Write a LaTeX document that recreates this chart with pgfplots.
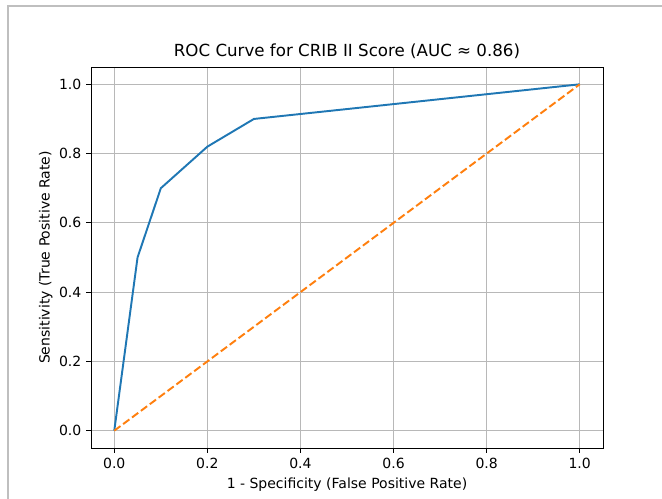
\documentclass[border=0pt]{standalone}
\usepackage{pgfplots}
\pgfplotsset{compat=1.18}
\usepackage{fontspec}
\setmainfont{DejaVu Sans}
\definecolor{mplblue}{HTML}{1F77B4}
\definecolor{mplorange}{HTML}{FF7F0E}
\begin{document}
\begin{tikzpicture}[x=0.75pt,y=0.75pt]
\path[use as bounding box] (0,0) rectangle (662,499);
% screenshot frame
\draw[black!25, line width=1.4pt] (8,0) -- (8,493) -- (662,493);
\coordinate (origin) at (91,51);
\begin{axis}[
  at={(origin)}, anchor=south west,
  scale only axis, width=384pt, height=285.75pt,
  xmin=-0.05, xmax=1.05, ymin=-0.05, ymax=1.05,
  xtick={0,0.2,0.4,0.6,0.8,1.0},
  ytick={0,0.2,0.4,0.6,0.8,1.0},
  xtick pos=bottom, ytick pos=left,
  tick align=outside, major tick length=3.75pt,
  tick style={black, line width=0.6pt},
  axis line style={line width=0.6pt},
  grid=major, grid style={color=black!28, line width=0.6pt},
  font=\fontsize{10.5}{12}\selectfont,
  /pgf/number format/assume math mode=true,
  /pgf/number format/fixed, /pgf/number format/fixed zerofill,
  /pgf/number format/precision=1,
  title={ROC Curve for CRIB II Score (AUC ≈ 0.86)},
  title style={font=\fontsize{12.5}{14}\selectfont, yshift=-3pt},
  xlabel={1 - Specificity (False Positive Rate)},
  ylabel={Sensitivity (True Positive Rate)},
  ylabel style={yshift=-2pt},
]
\addplot[mplblue, line width=1.45pt] coordinates {
  (0,0) (0.05,0.5) (0.1,0.7) (0.2,0.82) (0.3,0.9) (1,1)
};
\addplot[mplorange, line width=1.45pt, dash pattern=on 5.8pt off 2.5pt] coordinates {
  (0,0) (1,1)
};
\end{axis}
\end{tikzpicture}
\end{document}
